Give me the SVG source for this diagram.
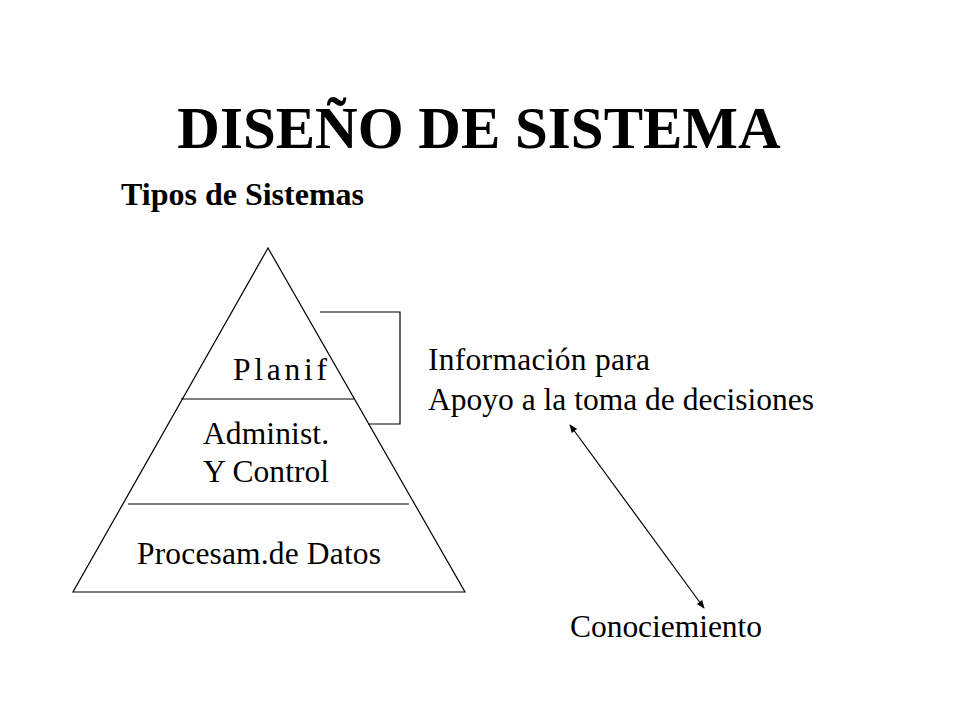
<svg xmlns="http://www.w3.org/2000/svg" width="960" height="720" viewBox="0 0 960 720">
<style>
text{font-family:"Liberation Serif","Times New Roman",serif;fill:#000}
.t{font-size:31.5px}
.l{stroke:#000;stroke-width:1.2;fill:none}
</style>
<defs><marker id="a" viewBox="0 0 10 10" refX="9" refY="5" markerWidth="7" markerHeight="7" orient="auto-start-reverse"><path d="M0,1L10,5L0,9z" fill="#000"/></marker></defs>
<rect width="960" height="720" fill="#fff"/>
<text x="479" y="148" text-anchor="middle" font-size="59" font-weight="bold">DISEÑO DE SISTEMA</text>
<text x="121" y="205" font-size="32" font-weight="bold" textLength="243">Tipos de Sistemas</text>
<g id="pyramid">
<path class="l" d="M268,248L73,592L465,592Z"/>
<line class="l" x1="181" y1="399" x2="354" y2="399"/>
<line class="l" x1="128" y1="504" x2="409" y2="504"/>
</g>
<g id="planif"><text class="t" x="233" y="380" textLength="94">Planif</text></g>
<g id="admin"><text class="t" x="203" y="444" textLength="126">Administ.</text><text class="t" x="203" y="482" textLength="126">Y Control</text></g>
<g id="proc"><text class="t" x="137" y="564" textLength="244">Procesam.de Datos</text></g>
<g id="info"><text class="t" x="428" y="370" textLength="222">Información para</text><text class="t" x="428" y="410" textLength="386">Apoyo a la toma de decisiones</text></g>
<g id="con"><text class="t" x="570" y="637" textLength="192">Conociemiento</text></g>
<g id="connectors">
<path class="l" d="M320,312H400V424H368"/>
<line class="l" x1="570" y1="425" x2="704" y2="608" marker-start="url(#a)" marker-end="url(#a)"/>
</g>
</svg>
